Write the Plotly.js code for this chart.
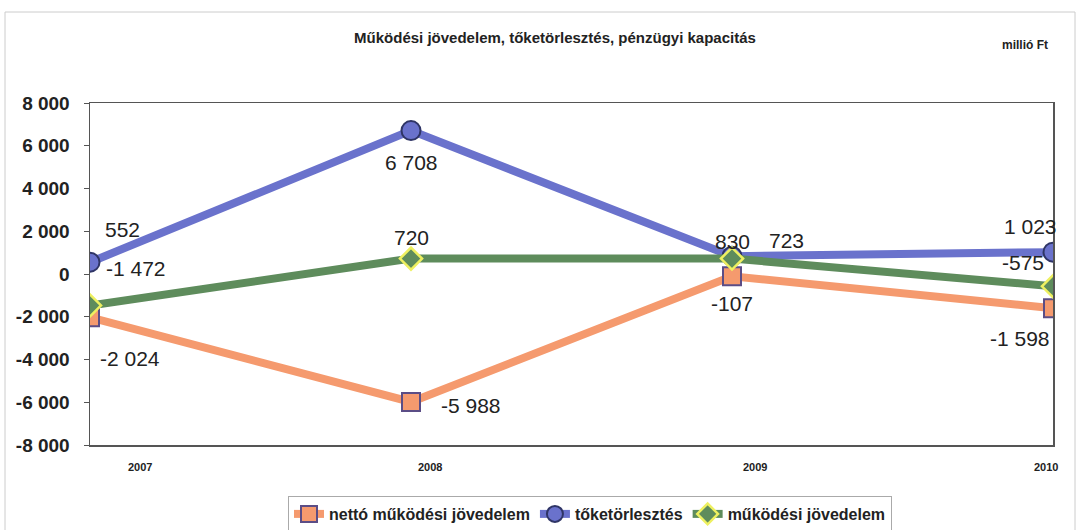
<!DOCTYPE html>
<html>
<head>
<meta charset="utf-8">
<script src="https://cdn.plot.ly/plotly-3.0.1.min.js"></script>
<style>
html,body{margin:0;padding:0;background:#fff;}
#chart{width:1079px;height:530px;}
</style>
</head>
<body>
<div id="chart"></div>
<script>
const years = ["2007", "2008", "2009", "2010"];
const nettoMukodesi = [-2024, -5988, -107, -1598];
const toketorlesztes = [552, 6708, 830, 1023];
const mukodesi = [-1472, 720, 723, -575];
const yTickVals = [-8000, -6000, -4000, -2000, 0, 2000, 4000, 6000, 8000];
const yTickText = ["-8 000", "-6 000", "-4 000", "-2 000", "0", "2 000", "4 000", "6 000", "8 000"];

function fmt(v) {
  const s = Math.abs(v).toString().replace(/\B(?=(\d{3})+(?!\d))/g, " ");
  return (v < 0 ? "-" : "") + s;
}

const cOrange = "#F59A6E", cBlue = "#6A72CC", cGreen = "#5E8C5C";
const fontMain = "Liberation Sans, Arial, sans-serif";

const traces = [
  {
    name: "nettó működési jövedelem", x: years, y: nettoMukodesi, type: "scatter", mode: "lines+markers",
    line: {color: cOrange, width: 8},
    marker: {symbol: "square", size: 18, color: cOrange, line: {color: "#5B4D86", width: 2}}
  },
  {
    name: "tőketörlesztés", x: years, y: toketorlesztes, type: "scatter", mode: "lines+markers",
    line: {color: cBlue, width: 8},
    marker: {symbol: "circle", size: 19, color: cBlue, line: {color: "#2F3566", width: 2}}
  },
  {
    name: "működési jövedelem", x: years, y: mukodesi, type: "scatter", mode: "lines+markers",
    line: {color: cGreen, width: 8},
    marker: {symbol: "diamond", size: 17, color: cGreen, line: {color: "#EEF060", width: 2.5}}
  }
];

// label offsets (pixels, right/down) per point
const offNetto = [[40, 41], [60, 4], [0, 27], [-33, 30]];
const offTok = [[32, -33], [0, 32], [0, -15], [-23, -26]];
const offMuk = [[46, -37], [0, -21], [54, -18], [-30, -24]];

const annotations = [];
function addLabels(vals, offs) {
  vals.forEach((v, i) => {
    annotations.push({
      x: i, y: v, xref: "x", yref: "y", text: fmt(v), showarrow: false,
      xshift: offs[i][0], yshift: -offs[i][1],
      font: {family: fontMain, size: 21, color: "#222"}
    });
  });
}
addLabels(nettoMukodesi, offNetto);
addLabels(toketorlesztes, offTok);
addLabels(mukodesi, offMuk);

// x category labels (placed as in the reference)
const xLabelPos = [140, 430, 755, 1046];
years.forEach((yr, i) => {
  annotations.push({
    text: "<b>" + yr + "</b>", xref: "paper", yref: "paper",
    x: (xLabelPos[i] - 90) / 963, y: -(467 - 445) / 342,
    xanchor: "center", yanchor: "middle", showarrow: false,
    font: {family: fontMain, size: 11, color: "#222"}
  });
});

annotations.push({
  text: "<b>millió Ft</b>", xref: "paper", yref: "paper", x: (1050 - 90) / 963, y: (445 - 45) / 342,
  xanchor: "right", yanchor: "middle", showarrow: false,
  font: {family: fontMain, size: 12, color: "#222"}
});

const layout = {
  width: 1079, height: 530,
  margin: {l: 90, r: 26, t: 103, b: 85},
  paper_bgcolor: "#fff", plot_bgcolor: "#fff",
  showlegend: true,
  title: {
    text: "<b>Működési jövedelem, tőketörlesztés, pénzügyi kapacitás</b>",
    x: 555/1079, xanchor: "center", xref: "container",
    y: 1 - 38/530, yanchor: "middle", yref: "container",
    font: {family: fontMain, size: 15, color: "#222"}
  },
  xaxis: {
    type: "category", range: [0, 3], showgrid: false, zeroline: false,
    showline: true, linecolor: "#555", linewidth: 1.5, mirror: true,
    ticks: "", showticklabels: false
  },
  yaxis: {
    range: [-8000, 8000], tickvals: yTickVals, ticktext: yTickText,
    showgrid: false, zeroline: false,
    showline: true, linecolor: "#555", linewidth: 1.5, mirror: true,
    ticks: "outside", ticklen: 5, tickcolor: "#555", ticklabelstandoff: 10,
    tickfont: {family: fontMain, size: 19, color: "#222", weight: "bold"}
  },
  legend: {
    orientation: "h", xref: "container", yref: "container",
    x: 590/1079, xanchor: "center", y: 1 - 514/530, yanchor: "middle",
    bordercolor: "#aaa", borderwidth: 1, bgcolor: "#fff",
    font: {family: fontMain, size: 16, color: "#222", weight: "bold"},
    tracegroupgap: 0
  },
  annotations: annotations,
  shapes: [
    {type: "rect", xref: "paper", yref: "paper", x0: (5-90)/963, x1: (1075-90)/963, y0: (445-540)/342, y1: (445-12)/342,
     line: {color: "#ccc", width: 1}, layer: "below"}
  ]
};

Plotly.newPlot("chart", traces, layout, {displayModeBar: false, staticPlot: true});
</script>
</body>
</html>
